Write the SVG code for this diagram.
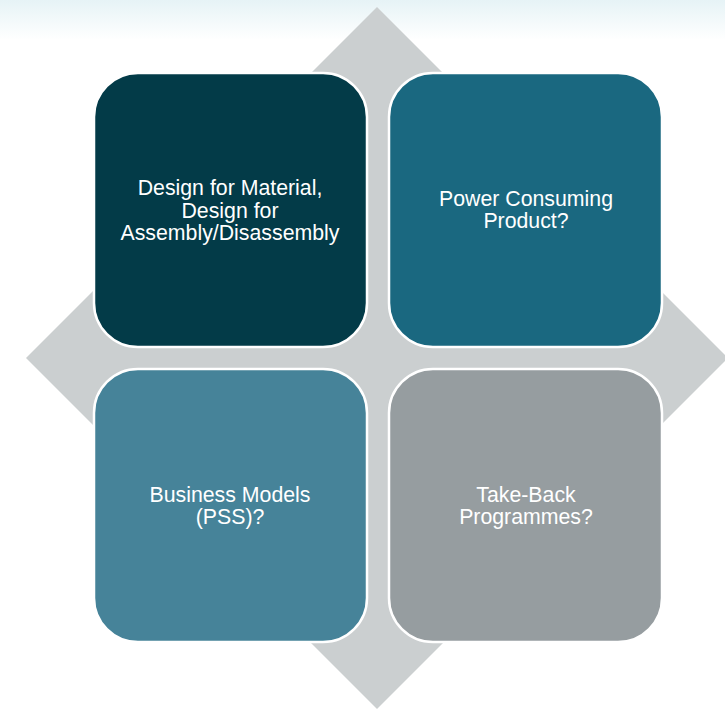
<svg xmlns="http://www.w3.org/2000/svg" width="725" height="709" viewBox="0 0 725 709">
<defs>
<linearGradient id="topband" x1="0" y1="0" x2="0" y2="1">
<stop offset="0" stop-color="#e6f3f6"/>
<stop offset="1" stop-color="#ffffff"/>
</linearGradient>
</defs>
<style>
.box{stroke:#ffffff;stroke-width:2.5}
.lbl{font-family:"Liberation Sans",Arial,sans-serif;font-size:21.3px;fill:#ffffff;text-anchor:middle}
</style>
<rect x="0" y="0" width="725" height="709" fill="#ffffff"/>
<rect x="0" y="0" width="725" height="40" fill="url(#topband)"/>
<g id="diamond">
<polygon points="377,7 728,358 377,709 26,358" fill="#cbcfd0"/>
</g>
<g id="node-design">
<rect class="box" x="94" y="73" width="273" height="274" rx="44" fill="#033b48"/>
<text class="lbl" x="230" y="195">Design for Material,</text>
<text class="lbl" x="230" y="218">Design for</text>
<text class="lbl" x="230" y="240">Assembly/Disassembly</text>
</g>
<g id="node-power">
<rect class="box" x="389" y="73" width="273" height="274" rx="44" fill="#1a6880"/>
<text class="lbl" x="526" y="206">Power Consuming</text>
<text class="lbl" x="526" y="228">Product?</text>
</g>
<g id="node-business">
<rect class="box" x="94" y="369" width="273" height="273" rx="44" fill="#468399"/>
<text class="lbl" x="230" y="502">Business Models</text>
<text class="lbl" x="230" y="524">(PSS)?</text>
</g>
<g id="node-takeback">
<rect class="box" x="389" y="369" width="273" height="273" rx="44" fill="#969da0"/>
<text class="lbl" x="526" y="502">Take-Back</text>
<text class="lbl" x="526" y="524">Programmes?</text>
</g>
<g id="connectors"></g>
</svg>
